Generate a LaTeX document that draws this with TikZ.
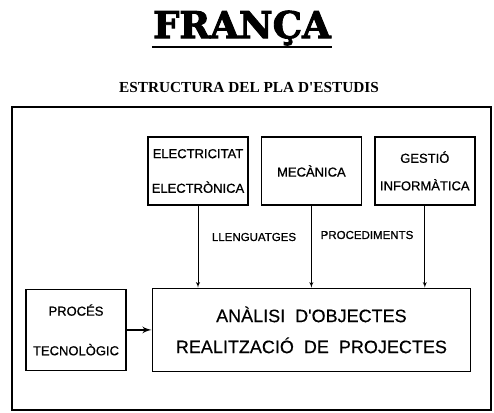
\documentclass[tikz,border=0pt]{standalone}
\usepackage{fontspec}
\setmainfont{Liberation Sans}
\newfontfamily\titolfont{DejaVu Serif}[BoldFeatures={FakeBold=2.5}]
\newfontfamily\subtitolfont{Liberation Serif}
\newfontfamily\caixafont{Liberation Sans}[FakeBold=0.8]
\newfontfamily\nuclifont{Liberation Sans}[FakeBold=0.4]
\usetikzlibrary{shapes,arrows,positioning}
\usepackage{xcolor}

\begin{document}
\begin{tikzpicture}[
    x=1pt, y=-1pt,
    node distance=12pt,
    area/.style={rectangle, draw=black, line width=1.4pt, minimum width=100pt, minimum height=68pt, text centered, align=center, inner sep=0pt, font=\fontsize{13}{15.6}\selectfont\caixafont},
    nucli/.style={area, minimum width=318pt, minimum height=83pt, font=\fontsize{18}{21.6}\selectfont\nuclifont},
    etiqueta/.style={font=\fontsize{11.5}{13}\selectfont\caixafont, inner sep=1pt},
    line/.style={draw, line width=0.9pt, -latex'},
    gruixut/.style={draw, line width=2.2pt, -latex'}
  ]
    \useasboundingbox (0,0) rectangle (494,412);
    \node [font=\fontsize{37}{40}\selectfont\titolfont\bfseries, inner xsep=1pt, inner ysep=1.5pt] (titol) at (242,28) {FRANÇA};
    \draw [line width=2.5pt] (titol.south west) -- (titol.south east);
    \node [font=\fontsize{15.3}{18}\selectfont\subtitolfont\bfseries] (subtitol) at (249,88) {ESTRUCTURA DEL PLA D'ESTUDIS};
    \draw [line width=1.2pt] (12,107) rectangle (491,410);

    \node [area] (electricitat) at (198,171) {ELECTRICITAT\\[19pt]ELECTRÒNICA};
    \node [area, right=of electricitat] (mecanica) {MECÀNICA};
    \node [area, right=of mecanica] (gestio) {GESTIÓ\\[12pt]INFORMÀTICA};
    \node [nucli, below=82pt of mecanica] (analisi) {ANÀLISI~~D'OBJECTES\\[9.4pt]REALITZACIÓ~~DE~~PROJECTES};
    \node [area, minimum height=81pt, left=25pt of analisi] (proces) {PROCÉS\\[24pt]TECNOLÒGIC};

    \node [etiqueta] (llenguatges) at (254,237) {LLENGUATGES};
    \node [etiqueta] (procediments) at (367,235) {PROCEDIMENTS};

    \path [line] (electricitat) -- (electricitat |- analisi.north);
    \path [line] (mecanica) -- (mecanica |- analisi.north);
    \path [line] (gestio) -- (gestio |- analisi.north);
    \path [gruixut] (proces) -- (proces -| analisi.west);
\end{tikzpicture}
\end{document}
